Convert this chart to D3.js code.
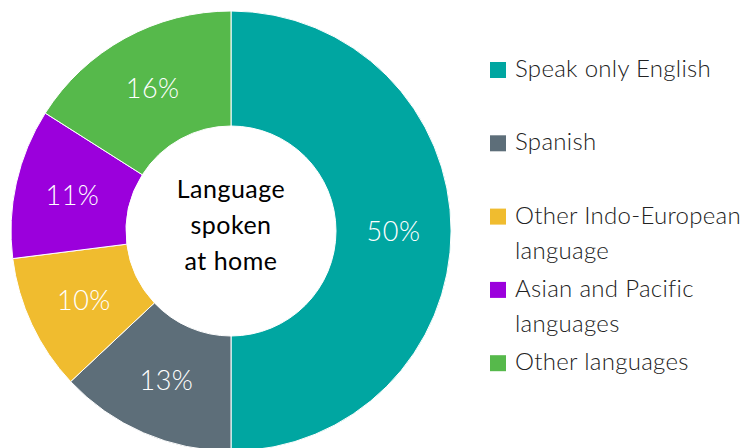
<!DOCTYPE html>
<html>
<head>
<meta charset="utf-8">
<script src="https://cdn.jsdelivr.net/npm/d3@7"></script>
<style>
  html, body { margin: 0; padding: 0; background: #fff; }
  svg { display: block; }
</style>
</head>
<body>
<svg id="chart" width="751" height="448"></svg>
<script>
// Language spoken at home, share of population
const categories = [
  "Speak only English",
  "Spanish",
  "Other Indo-European\nlanguage",
  "Asian and Pacific\nlanguages",
  "Other languages"
];
const values = [50, 13, 10, 11, 16];
const colors = ["#00A6A1", "#5D6E79", "#F0BC2F", "#9B00DC", "#56B94B"];
const centerTitle = ["Language", "spoken", "at home"];

const svg = d3.select("#chart");
const font = "Lato, 'Noto Sans', sans-serif";

const cx = 231, cy = 231;
const outerR = 220, innerR = 105;

const pie = d3.pie().sort(null).value(d => d.value);
const arc = d3.arc().innerRadius(innerR).outerRadius(outerR);
const labelArc = d3.arc().innerRadius((innerR + outerR) / 2).outerRadius((innerR + outerR) / 2);

const data = categories.map((c, i) => ({ name: c, value: values[i], color: colors[i] }));
const arcs = pie(data);

const g = svg.append("g").attr("transform", `translate(${cx},${cy})`);

g.selectAll("path.slice")
  .data(arcs)
  .join("path")
  .attr("class", "slice")
  .attr("d", arc)
  .attr("fill", d => d.data.color)
  .attr("stroke", "#fff")
  .attr("stroke-width", 1);

g.selectAll("text.pct")
  .data(arcs)
  .join("text")
  .attr("class", "pct")
  .attr("transform", d => `translate(${labelArc.centroid(d)})`)
  .attr("text-anchor", "middle")
  .attr("dy", "0.36em")
  .attr("fill", "#fff")
  .style("font-family", font)
  .style("font-weight", 300)
  .style("font-size", "27px")
  .style("letter-spacing", "0.5px")
  .text(d => d.data.value + "%");

// Title in the hole
g.append("text")
  .attr("text-anchor", "middle")
  .attr("fill", "#000")
  .style("font-family", font)
  .style("font-weight", 400)
  .style("font-size", "25px")
  .style("letter-spacing", "0.5px")
  .selectAll("tspan")
  .data(centerTitle)
  .join("tspan")
  .attr("x", 0)
  .attr("y", (d, i) => -33 + i * 36)
  .text(d => d);

// Legend
const legend = svg.append("g").attr("transform", "translate(490,62)");
const item = legend.selectAll("g.item")
  .data(data)
  .join("g")
  .attr("class", "item")
  .attr("transform", (d, i) => `translate(0,${i * 73.3})`);

item.append("rect")
  .attr("width", 16)
  .attr("height", 16)
  .attr("fill", d => d.color);

item.append("text")
  .attr("fill", "#222")
  .style("font-family", font)
  .style("font-weight", 300)
  .style("font-size", "24px")
  .style("letter-spacing", "0.3px")
  .selectAll("tspan")
  .data(d => d.name.split("\n"))
  .join("tspan")
  .attr("x", 25)
  .attr("y", (d, i) => 15 + i * 35)
  .text(d => d);
</script>
</body>
</html>
